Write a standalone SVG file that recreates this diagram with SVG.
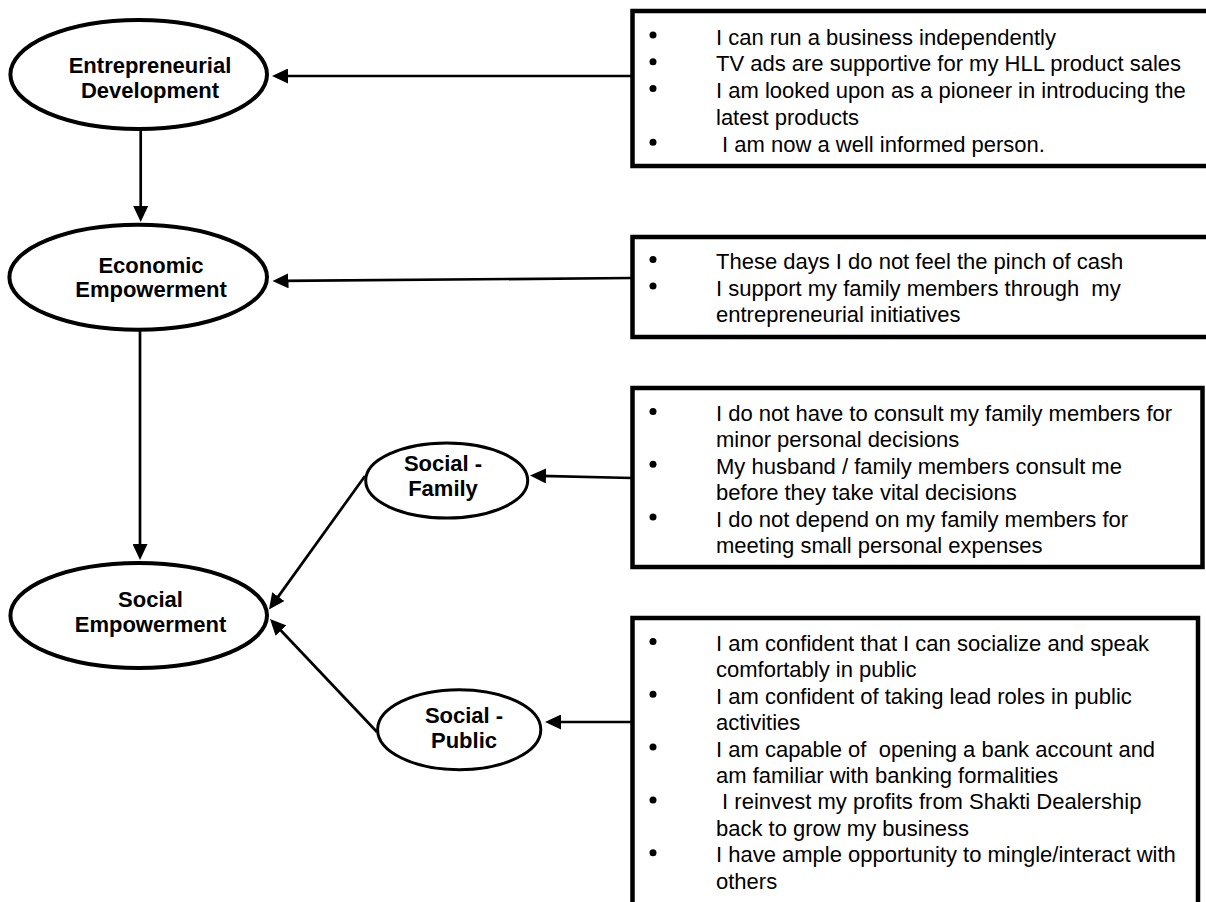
<svg xmlns="http://www.w3.org/2000/svg" xmlns:xlink="http://www.w3.org/1999/xlink" width="1206" height="902" viewBox="0 0 1206 902" xml:space="preserve">
  <style>
    .title { font-family: "Liberation Sans", Arial, sans-serif; font-weight: bold; font-size: 22px; text-anchor: middle; fill: #000; }
    .item { font-family: "Liberation Sans", Arial, sans-serif; font-size: 22px; fill: #000; white-space: pre; }
    .box { fill: #fff; stroke: #000; stroke-width: 4.5; }
    .oval { fill: #fff; stroke: #000; stroke-width: 4; }
    .oval-sm { fill: #fff; stroke: #000; stroke-width: 3; }
    .conn { fill: none; stroke: #000; stroke-width: 2.7; marker-end: url(#arrow); }
  </style>
  <defs>
    <marker id="arrow" viewBox="0 0 16 15" refX="6" refY="7.5" markerWidth="16" markerHeight="15" markerUnits="userSpaceOnUse" orient="auto">
      <path d="M0,0 L16,7.5 L0,15 z" fill="#000"/>
    </marker>
    <!-- list bullet, placed 9.5px above the text baseline -->
    <circle id="dot" cx="0" cy="0" r="3.5" fill="#000"/>
  </defs>
  <rect width="1206" height="902" fill="#fff"/>

  <!-- connectors -->
  <g id="connectors">
    <line class="conn" x1="632" y1="76" x2="282" y2="76"/>
    <line class="conn" x1="140.7" y1="129" x2="140.7" y2="212"/>
    <line class="conn" x1="632" y1="278" x2="282.5" y2="280.9"/>
    <line class="conn" x1="140" y1="331" x2="140" y2="550"/>
    <line class="conn" x1="632" y1="478" x2="540" y2="475.8"/>
    <line class="conn" x1="365" y1="476" x2="274.8" y2="601.4"/>
    <line class="conn" x1="632" y1="722" x2="555" y2="722"/>
    <line class="conn" x1="377" y1="732" x2="276.9" y2="626.3"/>
  </g>

  <!-- concept ovals -->
  <g id="entrepreneurial-development">
    <ellipse class="oval" cx="138.7" cy="74.5" rx="128.3" ry="54.5"/>
    <text class="title" x="150" y="73.3">Entrepreneurial</text>
    <text class="title" x="150" y="98.3">Development</text>
  </g>
  <g id="economic-empowerment">
    <ellipse class="oval" cx="138.2" cy="277.2" rx="128.8" ry="52.5"/>
    <text class="title" x="151" y="273.3">Economic</text>
    <text class="title" x="151" y="297.3">Empowerment</text>
  </g>
  <g id="social-empowerment">
    <ellipse class="oval" cx="138.7" cy="615.5" rx="128.3" ry="52.5"/>
    <text class="title" x="150.5" y="606.7">Social</text>
    <text class="title" x="150.5" y="631.7">Empowerment</text>
  </g>
  <g id="social-family">
    <ellipse class="oval-sm" cx="446.7" cy="480.5" rx="81" ry="37.5"/>
    <text class="title" x="443" y="470.7">Social -</text>
    <text class="title" x="443" y="496">Family</text>
  </g>
  <g id="social-public">
    <ellipse class="oval-sm" cx="459.2" cy="729.7" rx="81.6" ry="40"/>
    <text class="title" x="464" y="722.7">Social -</text>
    <text class="title" x="464" y="748.3">Public</text>
  </g>

  <!-- statement boxes -->
  <g id="entrepreneurial-statements">
    <rect class="box" x="632.5" y="11" width="580" height="155"/>
    <use xlink:href="#dot" href="#dot" x="653" y="35"/>
    <text class="item" x="716" y="44.5">I can run a business independently</text>
    <use xlink:href="#dot" href="#dot" x="653" y="61.8"/>
    <text class="item" x="716" y="71.3">TV ads are supportive for my HLL product sales</text>
    <use xlink:href="#dot" href="#dot" x="653" y="88.6"/>
    <text class="item" x="716" y="98.1">I am looked upon as a pioneer in introducing the</text>
    <text class="item" x="716" y="124.9">latest products</text>
    <use xlink:href="#dot" href="#dot" x="653" y="142.2"/>
    <text class="item" x="716" y="151.7"> I am now a well informed person.</text>
  </g>
  <g id="economic-statements">
    <rect class="box" x="632.5" y="237" width="580" height="100"/>
    <use xlink:href="#dot" href="#dot" x="653" y="259.5"/>
    <text class="item" x="716" y="269">These days I do not feel the pinch of cash</text>
    <use xlink:href="#dot" href="#dot" x="653" y="286"/>
    <text class="item" x="716" y="295.5">I support my family members through  my</text>
    <text class="item" x="716" y="322">entrepreneurial initiatives</text>
  </g>
  <g id="family-statements">
    <rect class="box" x="632.5" y="388" width="570" height="179"/>
    <use xlink:href="#dot" href="#dot" x="653" y="411.5"/>
    <text class="item" x="716" y="421">I do not have to consult my family members for</text>
    <text class="item" x="716" y="447.4">minor personal decisions</text>
    <use xlink:href="#dot" href="#dot" x="653" y="464.3"/>
    <text class="item" x="716" y="473.8">My husband / family members consult me</text>
    <text class="item" x="716" y="500.2">before they take vital decisions</text>
    <use xlink:href="#dot" href="#dot" x="653" y="517.1"/>
    <text class="item" x="716" y="526.6">I do not depend on my family members for</text>
    <text class="item" x="716" y="553">meeting small personal expenses</text>
  </g>
  <g id="public-statements">
    <rect class="box" x="632.5" y="618" width="565.5" height="300"/>
    <use xlink:href="#dot" href="#dot" x="653" y="641.5"/>
    <text class="item" x="716" y="651">I am confident that I can socialize and speak</text>
    <text class="item" x="716" y="677.4">comfortably in public</text>
    <use xlink:href="#dot" href="#dot" x="653" y="694.3"/>
    <text class="item" x="716" y="703.8">I am confident of taking lead roles in public</text>
    <text class="item" x="716" y="730.2">activities</text>
    <use xlink:href="#dot" href="#dot" x="653" y="747.1"/>
    <text class="item" x="716" y="756.6">I am capable of  opening a bank account and</text>
    <text class="item" x="716" y="783">am familiar with banking formalities</text>
    <use xlink:href="#dot" href="#dot" x="653" y="799.9"/>
    <text class="item" x="716" y="809.4"> I reinvest my profits from Shakti Dealership</text>
    <text class="item" x="716" y="835.8">back to grow my business</text>
    <use xlink:href="#dot" href="#dot" x="653" y="852.7"/>
    <text class="item" x="716" y="862.2">I have ample opportunity to mingle/interact with</text>
    <text class="item" x="716" y="888.6">others</text>
  </g>
</svg>
